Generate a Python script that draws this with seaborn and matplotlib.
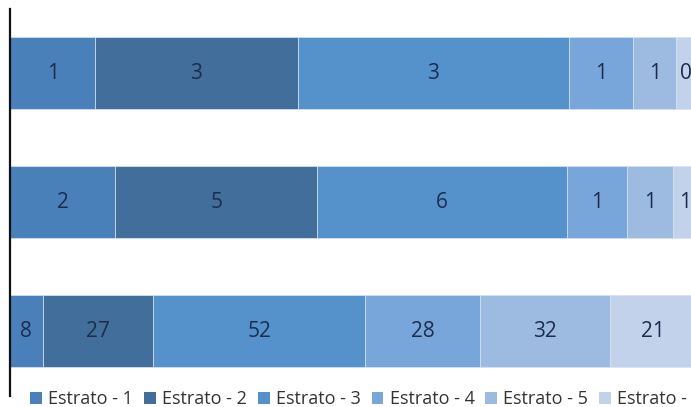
import numpy as np
import pandas as pd
import matplotlib
matplotlib.use("Agg")
import matplotlib.pyplot as plt
import seaborn as sns
from matplotlib.patches import Patch

# Data (rows top to bottom)
grupos = ["Grupo 1", "Grupo 2", "Grupo 3"]
estratos = ["Estrato - 1", "Estrato - 2", "Estrato - 3",
            "Estrato - 4", "Estrato - 5", "Estrato - 6"]
fila_1 = [1.08, 2.57, 3.44, 0.81, 0.55, 0.25]
fila_2 = [2.46, 4.71, 5.81, 1.42, 1.07, 0.53]
fila_3 = [8, 27, 52, 28, 32, 21]

colores = ["#4a80ba", "#426e9b", "#5592cc", "#78a6da", "#9dbbe1", "#c2d2ea"]

sns.set_theme(style="white")
plt.rcParams["font.family"] = ["Open Sans", "DejaVu Sans"]

valores = np.array([fila_1, fila_2, fila_3], dtype=float)
porcentajes = valores / valores.sum(axis=1, keepdims=True) * 100
acumulado = np.cumsum(porcentajes, axis=1)

df = pd.DataFrame(acumulado, columns=estratos)
df["grupo"] = grupos

fig = plt.figure(figsize=(6.91, 4.07), dpi=100)
# axes runs slightly past the right edge, like the cropped reference
ax = fig.add_axes([10 / 691, 11.3 / 407, 686 / 691, 386.9 / 407])

# stacked bars: draw cumulative totals from the last segment backwards
for i in range(len(estratos) - 1, -1, -1):
    sns.barplot(data=df, x=estratos[i], y="grupo", color=colores[i],
                orient="h", width=0.56, saturation=1, ax=ax,
                edgecolor="#d6e4f3", linewidth=0.6)

# value labels centred in each segment
for r in range(len(grupos)):
    inicio = 0
    for c in range(len(estratos)):
        centro = inicio + porcentajes[r, c] / 2
        ax.text(centro, r, f"{valores[r, c]:.0f}", ha="center", va="center",
                fontsize=15, color="#1d2c4c")
        inicio = acumulado[r, c]

ax.set_xlim(0, 100)
ax.set_ylim(2.5, -0.5)
ax.set_xlabel("")
ax.set_ylabel("")
ax.set_xticks([])
ax.set_yticks([])
for lado in ["top", "right", "bottom"]:
    ax.spines[lado].set_visible(False)
ax.spines["left"].set_color("#111111")
ax.spines["left"].set_linewidth(1.6)

handles = [Patch(facecolor=colores[i], edgecolor="none", label=estratos[i])
           for i in range(len(estratos))]
fig.legend(handles=handles, loc="center left", bbox_to_anchor=(14 / 691, 8 / 407),
           ncol=6, frameon=False, fontsize=13, handlelength=0.65,
           handleheight=0.65, handletextpad=0.35, columnspacing=0.6,
           labelcolor="#333333")

fig.savefig("out.png", dpi=100)
